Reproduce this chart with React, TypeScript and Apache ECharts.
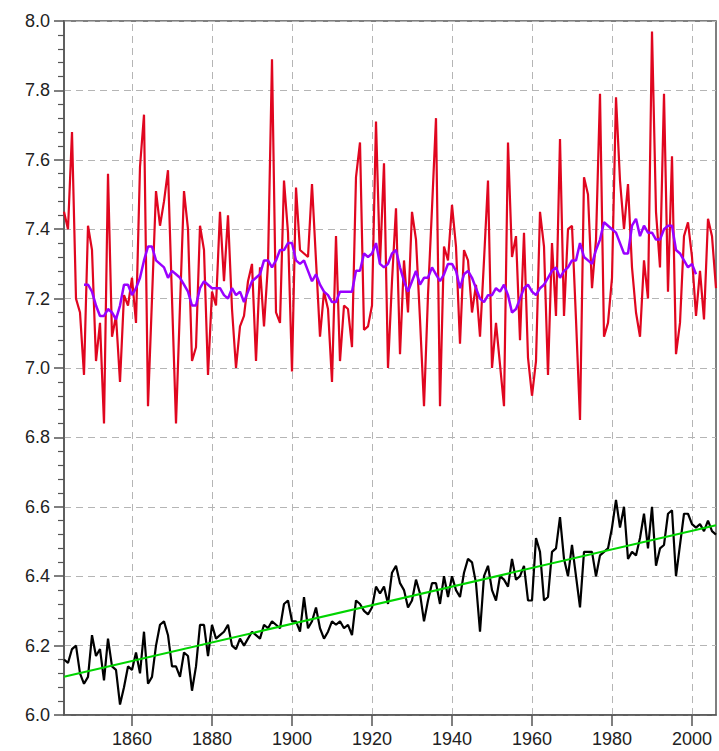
import React, { useEffect, useRef } from "react";
import * as echarts from "echarts";

const startYear = 1843;

// Red annual series, 1843-2006
const redValues = [
  7.45, 7.40, 7.68, 7.20, 7.16, 6.98, 7.41, 7.34, 7.02, 7.13,
  6.84, 7.56, 7.09, 7.15, 6.96, 7.21, 7.18, 7.26, 7.13, 7.58,
  7.73, 6.89, 7.20, 7.51, 7.41, 7.48, 7.57, 7.20, 6.84, 7.18,
  7.51, 7.40, 7.02, 7.06, 7.41, 7.34, 6.98, 7.22, 7.18, 7.45,
  7.25, 7.44, 7.17, 7.00, 7.12, 7.15, 7.25, 7.30, 7.02, 7.29,
  7.12, 7.30, 7.89, 7.16, 7.13, 7.54, 7.39, 6.99, 7.52, 7.34,
  7.33, 7.32, 7.53, 7.31, 7.09, 7.22, 7.17, 6.96, 7.38, 7.02,
  7.18, 7.17, 7.06, 7.55, 7.65, 7.11, 7.12, 7.18, 7.71, 7.30,
  7.59, 7.00, 7.25, 7.46, 7.04, 7.31, 7.16, 7.45, 7.37, 7.14,
  6.89, 7.21, 7.46, 7.72, 6.89, 7.35, 7.31, 7.47, 7.35, 7.07,
  7.34, 7.31, 7.16, 7.24, 7.09, 7.31, 7.54, 7.00, 7.13, 7.01,
  6.89, 7.65, 7.32, 7.38, 7.08, 7.39, 7.03, 6.92, 7.02, 7.45,
  7.35, 6.98, 7.36, 7.15, 7.66, 7.15, 7.40, 7.41, 7.14, 6.85,
  7.55, 7.50, 7.23, 7.37, 7.79, 7.09, 7.13, 7.26, 7.78, 7.54,
  7.40, 7.53, 7.29, 7.16, 7.09, 7.31, 7.20, 7.97, 7.45, 7.29,
  7.79, 7.22, 7.61, 7.04, 7.13, 7.38, 7.42, 7.32, 7.15, 7.28,
  7.14, 7.43, 7.38, 7.23,
];

// Purple smoothed series, 1848-2001
const smoothStartYear = 1848;
const smoothValues = [
  7.24, 7.24, 7.22, 7.18, 7.15, 7.15, 7.17, 7.16, 7.14, 7.18,
  7.24, 7.24, 7.21, 7.23, 7.26, 7.31, 7.35, 7.35, 7.31, 7.30,
  7.29, 7.26, 7.28, 7.27, 7.26, 7.24, 7.22, 7.18, 7.18, 7.23,
  7.25, 7.24, 7.23, 7.23, 7.23, 7.21, 7.20, 7.23, 7.21, 7.22,
  7.19, 7.22, 7.25, 7.26, 7.27, 7.31, 7.31, 7.29, 7.31, 7.34,
  7.34, 7.36, 7.36, 7.31, 7.30, 7.31, 7.28, 7.25, 7.27, 7.24,
  7.22, 7.21, 7.19, 7.19, 7.22, 7.22, 7.22, 7.22, 7.28, 7.28,
  7.33, 7.32, 7.33, 7.36, 7.30, 7.29, 7.30, 7.33, 7.34, 7.29,
  7.25, 7.22, 7.25, 7.28, 7.24, 7.26, 7.26, 7.29, 7.27, 7.25,
  7.27, 7.30, 7.30, 7.28, 7.23, 7.27, 7.28, 7.26, 7.23, 7.20,
  7.19, 7.21, 7.21, 7.23, 7.22, 7.24, 7.21, 7.16, 7.17, 7.20,
  7.23, 7.24, 7.22, 7.21, 7.23, 7.24, 7.26, 7.28, 7.29, 7.26,
  7.28, 7.29, 7.31, 7.31, 7.36, 7.32, 7.31, 7.30, 7.34, 7.37,
  7.42, 7.41, 7.40, 7.39, 7.36, 7.33, 7.33, 7.41, 7.43, 7.38,
  7.41, 7.39, 7.39, 7.37, 7.37, 7.40, 7.41, 7.41, 7.34, 7.33,
  7.31, 7.29, 7.30, 7.27,
];

// Black annual series, 1843-2006
const blackValues = [
  6.16, 6.15, 6.19, 6.20, 6.12, 6.09, 6.11, 6.23, 6.17, 6.19,
  6.10, 6.22, 6.14, 6.13, 6.03, 6.08, 6.14, 6.13, 6.18, 6.12,
  6.24, 6.09, 6.11, 6.20, 6.26, 6.27, 6.23, 6.14, 6.14, 6.11,
  6.18, 6.17, 6.07, 6.14, 6.26, 6.26, 6.17, 6.26, 6.22, 6.23,
  6.24, 6.26, 6.20, 6.19, 6.22, 6.20, 6.22, 6.24, 6.23, 6.22,
  6.26, 6.25, 6.27, 6.26, 6.25, 6.32, 6.33, 6.27, 6.27, 6.24,
  6.34, 6.25, 6.27, 6.31, 6.25, 6.22, 6.24, 6.27, 6.26, 6.27,
  6.25, 6.26, 6.23, 6.33, 6.32, 6.30, 6.29, 6.31, 6.37, 6.35,
  6.37, 6.32, 6.41, 6.43, 6.38, 6.36, 6.31, 6.33, 6.39, 6.35,
  6.27, 6.33, 6.38, 6.38, 6.32, 6.40, 6.34, 6.40, 6.36, 6.34,
  6.41, 6.45, 6.44, 6.38, 6.24, 6.40, 6.43, 6.36, 6.33, 6.40,
  6.39, 6.37, 6.45, 6.39, 6.40, 6.43, 6.33, 6.33, 6.51, 6.47,
  6.33, 6.34, 6.47, 6.48, 6.57, 6.45, 6.40, 6.49, 6.40, 6.31,
  6.47, 6.47, 6.47, 6.40, 6.46, 6.47, 6.48, 6.54, 6.62, 6.54,
  6.60, 6.45, 6.47, 6.46, 6.51, 6.58, 6.48, 6.60, 6.43, 6.48,
  6.49, 6.58, 6.59, 6.40, 6.49, 6.58, 6.58, 6.55, 6.54, 6.55,
  6.53, 6.56, 6.53, 6.52,
];

// Green linear trend endpoints
const trendYears = [1843, 2006];
const trendValues = [6.11, 6.547];

const xTickLabels = [1860, 1880, 1900, 1920, 1940, 1960, 1980, 2000];

const toPairs = (start: number, vals: number[]) =>
  vals.map((v, i) => [start + i, v]);

export default function App() {
  const ref = useRef<HTMLDivElement>(null);

  useEffect(() => {
    if (!ref.current) return;
    const chart = echarts.init(ref.current, null, { renderer: "svg" });
    const font = "Liberation Sans, Arial, Helvetica, sans-serif";
    const axisColor = "#555";
    const gridStyle = { color: "#b5b5b5", width: 1, type: [7, 5] as any };
    chart.setOption({
      animation: false,
      backgroundColor: "#fff",
      grid: {
        left: 64,
        right: 3,
        top: 21,
        bottom: 36,
        show: true,
        borderColor: axisColor,
        borderWidth: 1.5,
        backgroundColor: "transparent",
      },
      xAxis: {
        type: "value",
        min: 1843,
        max: 2006,
        axisLine: { show: true, lineStyle: { color: axisColor, width: 1.5 } },
        axisTick: {
          show: true,
          length: 11,
          lineStyle: { color: axisColor, width: 1.5 },
          customValues: xTickLabels,
        },
        axisLabel: {
          customValues: xTickLabels,
          fontSize: 18,
          color: "#222",
          fontFamily: font,
          margin: 15,
          formatter: (v: number) => String(v),
        },
        splitLine: { show: false },
      },
      yAxis: {
        type: "value",
        min: 6,
        max: 8,
        interval: 0.2,
        axisLine: { show: true, lineStyle: { color: axisColor, width: 1.5 } },
        axisTick: {
          show: true,
          length: 10,
          lineStyle: { color: axisColor, width: 1.5 },
        },
        minorTick: {
          show: true,
          splitNumber: 5,
          length: 6,
          lineStyle: { color: axisColor, width: 1.2 },
        },
        axisLabel: {
          fontSize: 18,
          color: "#222",
          fontFamily: font,
          margin: 14,
          formatter: (v: number) => v.toFixed(1),
        },
        splitLine: { show: true, lineStyle: gridStyle },
      },
      series: [
        {
          type: "line",
          data: [],
          silent: true,
          z: 0,
          markLine: {
            silent: true,
            z: 0,
            symbol: ["none", "none"],
            label: { show: false },
            lineStyle: gridStyle,
            emphasis: { disabled: true },
            data: xTickLabels.map((v) => ({ xAxis: v })),
          },
        },
        {
          type: "line",
          data: toPairs(startYear, redValues),
          showSymbol: false,
          lineStyle: { color: "#e0061f", width: 2.2 },
          z: 2,
        },
        {
          type: "line",
          data: toPairs(smoothStartYear, smoothValues),
          showSymbol: false,
          lineStyle: { color: "#9a00ff", width: 2.5 },
          z: 3,
        },
        {
          type: "line",
          data: toPairs(startYear, blackValues),
          showSymbol: false,
          lineStyle: { color: "#000", width: 2.2 },
          z: 2,
        },
        {
          type: "line",
          data: trendYears.map((y, i) => [y, trendValues[i]]),
          showSymbol: false,
          lineStyle: { color: "#00d400", width: 2 },
          z: 3,
        },
      ],
    });
    return () => chart.dispose();
  }, []);

  return (
    <div
      ref={ref}
      style={{ position: "fixed", left: 0, top: 0, width: 719, height: 751 }}
    />
  );
}
